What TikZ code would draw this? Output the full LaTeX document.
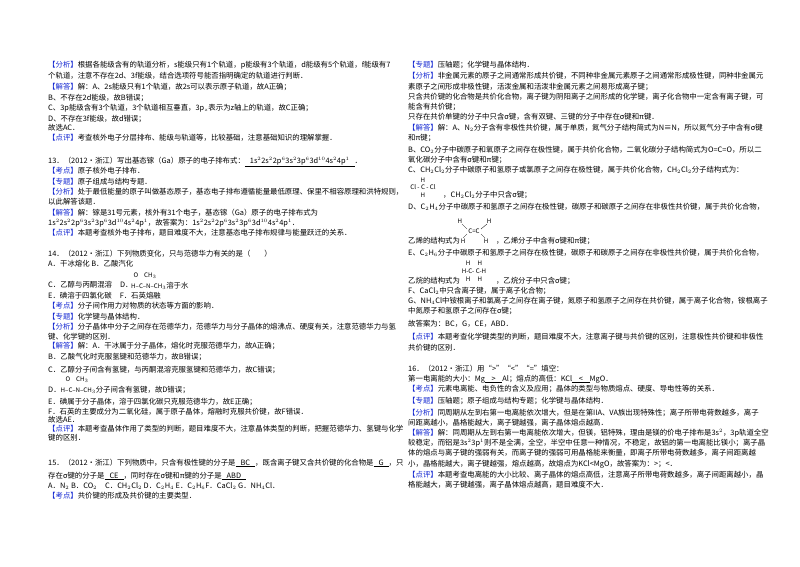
\documentclass[tikz,border=0pt]{standalone}
\usepackage{fontspec}
\setmainfont{Noto Sans CJK SC}
\definecolor{tagblue}{RGB}{20,40,210}
\newcommand\tg[1]{\textcolor{tagblue}{【#1】}}
\newcommand\ul[1]{\underline{\hspace{5pt}#1\hspace{5pt}}}
\newcount\lc
\newcommand\tl[3]{\global\advance\lc by 1\relax\node[txt] (t\the\lc) at (#1,-#2) {#3};}
\newcommand\sm[3]{\global\advance\lc by 1\relax\node[smt] (t\the\lc) at (#1,-#2) {#3};}
\tikzset{txt/.style={anchor=west,inner sep=0pt,font=\fontsize{7.4}{8}\selectfont},
 smt/.style={anchor=center,inner sep=0pt,font=\fontsize{6.2}{6}\selectfont}}
\begin{document}
\begin{tikzpicture}[x=1pt,y=1pt]
\fill[white] (0,0) rectangle (800,-566);
\useasboundingbox (0,0) rectangle (800,-566);
% left column
\tl{48}{65}{\tg{分析}根据各能级含有的轨道分析，s能级只有1个轨道，p能级有3个轨道，d能级有5个轨道，f能级有7}
\tl{48}{76}{个轨道，注意不存在2d、3f能级，结合选项符号能否指明确定的轨道进行判断．}
\tl{48}{87}{\tg{解答}解：A、2s能级只有1个轨道，故2s可以表示原子轨道，故A正确；}
\tl{48}{98}{B、不存在2d能级，故B错误；}
\tl{48}{108}{C、3p能级含有3个轨道，3个轨道相互垂直，3p$_z$表示为z轴上的轨道，故C正确；}
\tl{48}{119}{D、不存在3f能级，故d错误；}
\tl{48}{128}{故选AC．}
\tl{48}{138}{\tg{点评}考查核外电子分层排布、能级与轨道等，比较基础，注意基础知识的理解掌握．}
\tl{48}{162}{13．（2012•浙江）写出基态镓（Ga）原子的电子排布式：\ul{1s$^2$2s$^2$2p$^6$3s$^2$3p$^6$3d$^{10}$4s$^2$4p$^1$}．}
\tl{48}{171}{\tg{考点}原子核外电子排布．}
\tl{48}{182}{\tg{专题}原子组成与结构专题．}
\tl{48}{192}{\tg{分析}处于最低能量的原子叫做基态原子，基态电子排布遵循能量最低原理、保里不相容原理和洪特规则，}
\tl{48}{202}{以此解答该题．}
\tl{48}{213}{\tg{解答}解：镓是31号元素，核外有31个电子，基态镓（Ga）原子的电子排布式为}
\tl{48}{223}{1s$^2$2s$^2$2p$^6$3s$^2$3p$^6$3d$^{10}$4s$^2$4p$^1$，故答案为：1s$^2$2s$^2$2p$^6$3s$^2$3p$^6$3d$^{10}$4s$^2$4p$^1$．}
\tl{48}{233}{\tg{点评}本题考查核外电子排布，题目难度不大，注意基态电子排布规律与能量跃迁的关系．}
\tl{48}{254}{14．（2012•浙江）下列物质变化，只与范德华力有关的是（\hspace{14pt}）}
\tl{48}{264}{A．干冰熔化 B．乙酸汽化}
\tl{48}{285}{C．乙醇与丙酮混溶\hspace{8pt}D．}
\sm{145}{276}{O\hspace{6pt}CH$_3$}
\tl{131}{286}{\fontsize{6.2}{6}\selectfont H--C--N--CH$_3$\fontsize{7.4}{8}\selectfont 溶于水}
\tl{48}{296}{E．碘溶于四氯化碳\hspace{8pt}F．石英熔融}
\tl{48}{306}{\tg{考点}分子间作用力对物质的状态等方面的影响．}
\tl{48}{317}{\tg{专题}化学键与晶体结构．}
\tl{48}{327}{\tg{分析}分子晶体中分子之间存在范德华力，范德华力与分子晶体的熔沸点、硬度有关，注意范德华力与氢}
\tl{48}{337}{键、化学键的区别．}
\tl{48}{346}{\tg{解答}解：A．干冰属于分子晶体，熔化时克服范德华力，故A正确；}
\tl{48}{357}{B．乙酸气化时克服氢键和范德华力，故B错误；}
\tl{48}{370}{C．乙醇分子间含有氢键，与丙酮混溶克服氢键和范德华力，故C错误；}
\sm{77}{380}{O\hspace{6pt}CH$_3$}
\tl{48}{390}{D．\fontsize{6.2}{6}\selectfont H--C--N--CH$_3$\fontsize{7.4}{8}\selectfont 分子间含有氢键，故D错误；}
\tl{48}{402}{E．碘属于分子晶体，溶于四氯化碳只克服范德华力，故E正确；}
\tl{48}{412}{F．石英的主要成分为二氧化硅，属于原子晶体，熔融时克服共价键，故F错误．}
\tl{48}{420}{故选AE．}
\tl{48}{429}{\tg{点评}本题考查晶体作用了类型的判断，题目难度不大，注意晶体类型的判断，把握范德华力、氢键与化学}
\tl{48}{438}{键的区别．}
\tl{48}{463}{15．（2012•浙江）下列物质中，只含有极性键的分子是\ul{BC}，既含离子键又含共价键的化合物是\ul{G}，只}
\tl{48}{476}{存在σ键的分子是\ul{CE}，同时存在σ键和π键的分子是\ul{ABD}}
\tl{48}{486}{A．N$_2$ B．CO$_2$\hspace{8pt}C．CH$_2$Cl$_2$ D．C$_2$H$_4$ E．C$_2$H$_6$F．CaCl$_2$ G．NH$_4$Cl．}
\tl{48}{496}{\tg{考点}共价键的形成及共价键的主要类型．}
% right column
\tl{408}{65}{\tg{专题}压轴题；化学键与晶体结构．}
\tl{408}{76}{\tg{分析}非金属元素的原子之间通常形成共价键，不同种非金属元素原子之间通常形成极性键，同种非金属元}
\tl{408}{87}{素原子之间形成非极性键，活泼金属和活泼非金属元素之间易形成离子键；}
\tl{408}{97}{只含共价键的化合物是共价化合物，离子键为阴阳离子之间形成的化学键，离子化合物中一定含有离子键，可}
\tl{408}{107}{能含有共价键；}
\tl{408}{117}{只存在共价单键的分子中只含σ键，含有双键、三键的分子中存在σ键和π键．}
\tl{408}{128}{\tg{解答}解：A、N$_2$分子含有非极性共价键，属于单质，氮气分子结构简式为N≡N，所以氮气分子中含有σ键}
\tl{408}{138}{和π键；}
\tl{408}{150}{B、CO$_2$分子中碳原子和氧原子之间存在极性键，属于共价化合物，二氧化碳分子结构简式为O=C=O，所以二}
\tl{408}{160}{氧化碳分子中含有σ键和π键；}
\tl{408}{170}{C、CH$_2$Cl$_2$分子中碳原子和氢原子或氯原子之间存在极性键，属于共价化合物，CH$_2$Cl$_2$分子结构式为：}
\sm{423}{180}{H}
\sm{423}{187}{Cl - C - Cl}
\sm{423}{195}{H}
\tl{443}{195}{，CH$_2$Cl$_2$分子中只含σ键；}
\tl{408}{207}{D、C$_2$H$_4$分子中碳原子和氢原子之间存在极性键，碳原子和碳原子之间存在非极性共价键，属于共价化合物，}
\sm{460}{221}{H}
\sm{474}{231}{C=C}
\sm{489}{221}{H}
\sm{463}{241}{H}
\sm{486}{241}{H}
\draw[line width=0.3pt] (462,-224) -- (467,-229) (481,-229) -- (487,-224) (467,-234) -- (463,-238) (481,-234) -- (485,-238);
\tl{408}{241}{乙烯的结构式为\hspace{36pt}，乙烯分子中含有σ键和π键；}
\tl{408}{253}{E、C$_2$H$_6$分子中碳原子和氢原子之间存在极性键，碳原子和碳原子之间存在非极性共价键，属于共价化合物，}
\sm{474}{263}{H\hspace{7pt}H}
\sm{474}{271}{H-C- C-H}
\sm{474}{279}{H\hspace{7pt}H}
\tl{408}{281}{乙烷的结构式为\hspace{36pt}，乙烷分子中只含σ键；}
\tl{408}{291}{F、CaCl$_2$中只含离子键，属于离子化合物；}
\tl{408}{301}{G、NH$_4$Cl中铵根离子和氯离子之间存在离子键，氮原子和氢原子之间存在共价键，属于离子化合物，铵根离子}
\tl{408}{311}{中氮原子和氢原子之间存在σ键；}
\tl{408}{324}{故答案为：BC，G，CE，ABD．}
\tl{408}{337}{\tg{点评}本题考查化学键类型的判断，题目难度不大，注意离子键与共价键的区别，注意极性共价键和非极性}
\tl{408}{348}{共价键的区别．}
\tl{408}{369}{16．（2012•浙江）用“>”“<”“=”填空：}
\tl{408}{379}{第一电离能的大小：Mg\ul{\ >\ }Al；熔点的高低：KCl\ul{\ <\ }MgO．}
\tl{408}{389}{\tg{考点}元素电离能、电负性的含义及应用；晶体的类型与物质熔点、硬度、导电性等的关系．}
\tl{408}{401}{\tg{专题}压轴题；原子组成与结构专题；化学键与晶体结构．}
\tl{408}{413}{\tg{分析}同周期从左到右第一电离能依次增大，但是在第IIA、VA族出现特殊性；离子所带电荷数越多，离子}
\tl{408}{423}{间距离越小，晶格能越大，离子键越强，离子晶体熔点越高．}
\tl{408}{433}{\tg{解答}解：同周期从左到右第一电离能依次增大，但镁，铝特殊，理由是镁的价电子排布是3s$^2$，3p轨道全空}
\tl{408}{443}{较稳定，而铝是3s$^2$3p$^1$则不是全满，全空，半空中任意一种情况，不稳定，故铝的第一电离能比镁小；离子晶}
\tl{408}{453}{体的熔点与离子键的强弱有关，而离子键的强弱可用晶格能来衡量，即离子所带电荷数越多，离子间距离越}
\tl{408}{464}{小，晶格能越大，离子键越强，熔点越高，故熔点为KCl<MgO，故答案为：>；<．}
\tl{408}{475}{\tg{点评}本题考查电离能的大小比较、离子晶体的熔点高低，注意离子所带电荷数越多，离子间距离越小，晶}
\tl{408}{485}{格能越大，离子键越强，离子晶体熔点越高，题目难度不大．}
\end{tikzpicture}
\end{document}
